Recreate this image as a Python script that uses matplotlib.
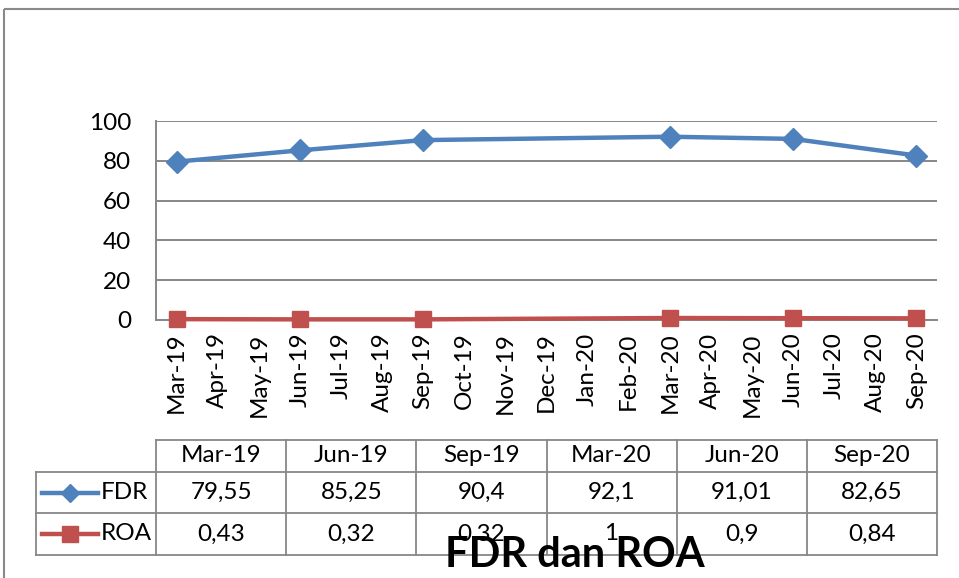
import matplotlib
matplotlib.use("Agg")
import matplotlib.pyplot as plt
from matplotlib.lines import Line2D
from matplotlib.patches import Rectangle

# ---- data ----
months = ["Mar-19", "Apr-19", "May-19", "Jun-19", "Jul-19", "Aug-19", "Sep-19",
          "Oct-19", "Nov-19", "Dec-19", "Jan-20", "Feb-20", "Mar-20", "Apr-20",
          "May-20", "Jun-20", "Jul-20", "Aug-20", "Sep-20"]
periods = ["Mar-19", "Jun-19", "Sep-19", "Mar-20", "Jun-20", "Sep-20"]
fdr = [79.55, 85.25, 90.4, 92.1, 91.01, 82.65]
roa = [0.43, 0.32, 0.32, 1, 0.9, 0.84]
fdr_labels = ["79,55", "85,25", "90,4", "92,1", "91,01", "82,65"]
roa_labels = ["0,43", "0,32", "0,32", "1", "0,9", "0,84"]
yticks = [0, 20, 40, 60, 80, 100]
title = "FDR dan ROA"

BLUE = "#4F81BD"
RED = "#C0504D"
GRID = "#878787"
FONT = "Lato"
FS = 17.5

W, H = 959, 578
fig = plt.figure(figsize=(W / 100, H / 100), dpi=100)

# overlay axes in pixel coords for frame & table
ov = fig.add_axes([0, 0, 1, 1])
ov.set_xlim(0, W)
ov.set_ylim(H, 0)
ov.axis("off")
ov.add_patch(Rectangle((3.5, 8.5), W + 20, H + 20, fill=False, ec="#8a8a8a", lw=1.5))

# main plot
x_left, x_right = 156, 937
y_top, y_bot = 121, 320
ax = fig.add_axes([x_left / W, 1 - y_bot / H, (x_right - x_left) / W, (y_bot - y_top) / H])
xs = [months.index(p) for p in periods]
ax.plot(xs, fdr, color=BLUE, lw=3.2, marker="D", ms=11, clip_on=False, zorder=5)
ax.plot(xs, roa, color=RED, lw=3.2, marker="s", ms=12, clip_on=False, zorder=5)
ax.set_xlim(-0.5, len(months) - 0.5)
ax.set_ylim(0, 100)
ax.set_yticks(yticks)
ax.set_yticklabels([str(v) for v in yticks], fontsize=FS, family=FONT)
ax.set_xticks(range(len(months)))
ax.set_xticklabels(months, rotation=90, fontsize=FS, family=FONT)
ax.tick_params(axis="y", length=0, pad=18)
ax.tick_params(axis="x", length=0, pad=9)
ax.grid(axis="y", color=GRID, lw=1.4)
ax.set_axisbelow(True)
for s in ["top", "right"]:
    ax.spines[s].set_visible(False)
for s in ["left", "bottom"]:
    ax.spines[s].set_color(GRID)
    ax.spines[s].set_linewidth(1.4)

# ---- table ----
col_w = (x_right - x_left) / len(periods)
col_x = [x_left + i * col_w for i in range(len(periods) + 1)]
leg_left = 36
rows_y = [440, 472, 513, 555]
lc = GRID
lw = 1.3
ov.plot([x_left, x_right], [rows_y[0]] * 2, color=lc, lw=lw)
for y in rows_y[1:]:
    ov.plot([leg_left, x_right], [y, y], color=lc, lw=lw)
ov.plot([leg_left, leg_left], [rows_y[1], rows_y[3]], color=lc, lw=lw)
for x in col_x:
    ov.plot([x, x], [rows_y[0], rows_y[3]], color=lc, lw=lw)

for i, p in enumerate(periods):
    cx = (col_x[i] + col_x[i + 1]) / 2
    ov.text(cx, (rows_y[0] + rows_y[1]) / 2, p, ha="center", va="center", fontsize=FS, family=FONT)
    ov.text(cx, (rows_y[1] + rows_y[2]) / 2, fdr_labels[i], ha="center", va="center", fontsize=FS, family=FONT)
    ov.text(cx, (rows_y[2] + rows_y[3]) / 2, roa_labels[i], ha="center", va="center", fontsize=FS, family=FONT)

for (name, color, mk, ms), (ya, yb) in zip(
        [("FDR", BLUE, "D", 9), ("ROA", RED, "s", 12)],
        [(rows_y[1], rows_y[2]), (rows_y[2], rows_y[3])]):
    cy = (ya + yb) / 2
    ov.add_line(Line2D([42, 98], [cy, cy], color=color, lw=3.2))
    ov.add_line(Line2D([70], [cy], color=color, marker=mk, ms=ms, lw=0))
    ov.text(101, cy, name, ha="left", va="center", fontsize=FS, family=FONT)

ov.text(575, 567, title, ha="center", va="baseline", fontsize=30, fontweight="bold", family=FONT)

fig.savefig("out.png", dpi=100)
